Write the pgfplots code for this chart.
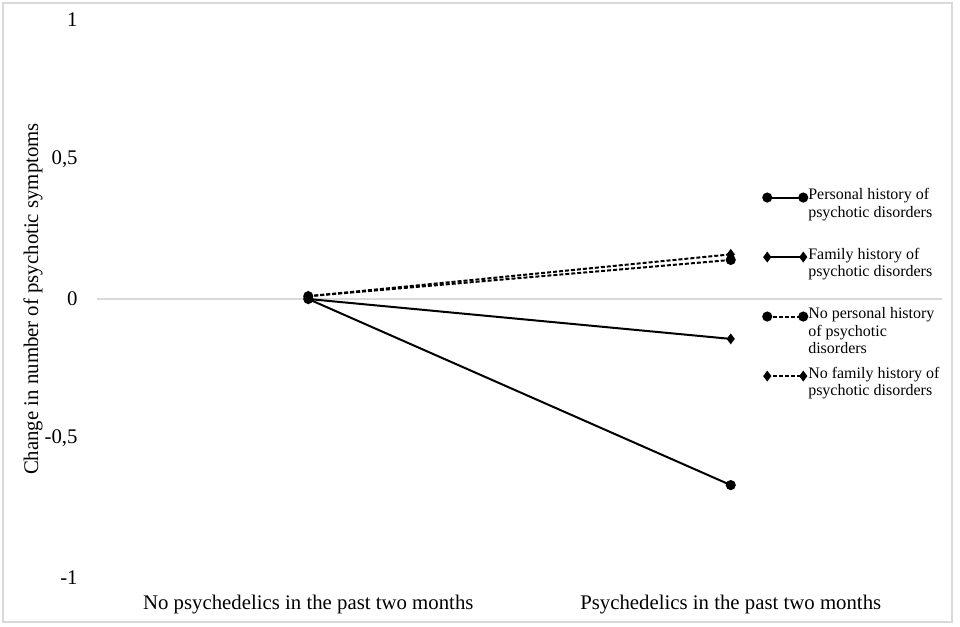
\documentclass[border=0pt]{standalone}
\usepackage{fontspec}
\setmainfont{Liberation Serif}
\usepackage{pgfplots}
\pgfplotsset{compat=1.18}
\definecolor{gridgray}{HTML}{D9D9D9}

\newcommand{\entry}[1]{\parbox[t]{70pt}{#1}}

\begin{document}
\begin{tikzpicture}
\useasboundingbox (0,0) rectangle (480pt,313.5pt);
\draw[gridgray, line width=0.6pt] (1.5pt,2.5pt) rectangle (476pt,312pt);
\begin{axis}[
    at={(48.5pt,24.5pt)}, anchor=south west,
    scale only axis, width=422.5pt, height=279pt,
    xmin=-0.5, xmax=1.5, ymin=-1, ymax=1,
    xtick={0,1},
    xticklabels={No psychedelics in the past two months, Psychedelics in the past two months},
    ytick={-1,-0.5,0,0.5,1},
    yticklabels={{-1},{-0,5},{0},{0,5},{1}},
    axis line style={draw=none}, major tick length=0pt,
    extra y ticks={0}, extra y tick labels={},
    extra y tick style={grid=major, major grid style={gridgray, line width=0.6pt}},
    tick label style={font=\fontsize{10.4}{12}\selectfont},
    xticklabel style={anchor=base, inner sep=0pt, yshift=-16pt},
    yticklabel style={anchor=east, inner sep=0pt, xshift=-9.5pt},
    ylabel={Change in number of psychotic symptoms},
    ylabel style={at={(axis description cs:-0.0757,0.5)}, anchor=center, font=\fontsize{10.4}{12}\selectfont},
    clip=false,
    legend style={at={(rel axis cs:0.788,0.70)}, anchor=north west, draw=none, fill=none,
        inner sep=0pt, row sep=0pt, column sep=0.5pt,
        font=\fontsize{8}{8.6}\selectfont,
        nodes={inner sep=0pt},
        /tikz/every even column/.append style={nodes={text height=6pt, text depth=23.75pt}}},
    legend cell align=left,
    legend image code/.code={\draw[#1, yshift=10pt] plot coordinates {(0pt,0pt) (18pt,0pt)};},
]
\addplot[black, line width=1pt, mark=*, mark size=2pt] coordinates {(0,0) (1,-0.667)};
\addlegendentry{\entry{Personal history of\newline psychotic disorders}}
\addplot[black, line width=1pt, mark=diamond*, mark size=1.9pt] coordinates {(0,0) (1,-0.143)};
\addlegendentry{\entry{Family history of\newline psychotic disorders}}
\addplot[black, line width=1pt, dash pattern=on 2pt off 1pt, mark=*, mark size=2pt, mark options={solid}] coordinates {(0,0.01) (1,0.14)};
\addlegendentry{\entry{No personal history\newline of psychotic\newline disorders}}
\addplot[black, line width=1pt, dash pattern=on 2pt off 1pt, mark=diamond*, mark size=1.9pt, mark options={solid}] coordinates {(0,0.01) (1,0.16)};
\addlegendentry{\entry{No family history of\newline psychotic disorders}}
\end{axis}
\end{tikzpicture}
\end{document}
